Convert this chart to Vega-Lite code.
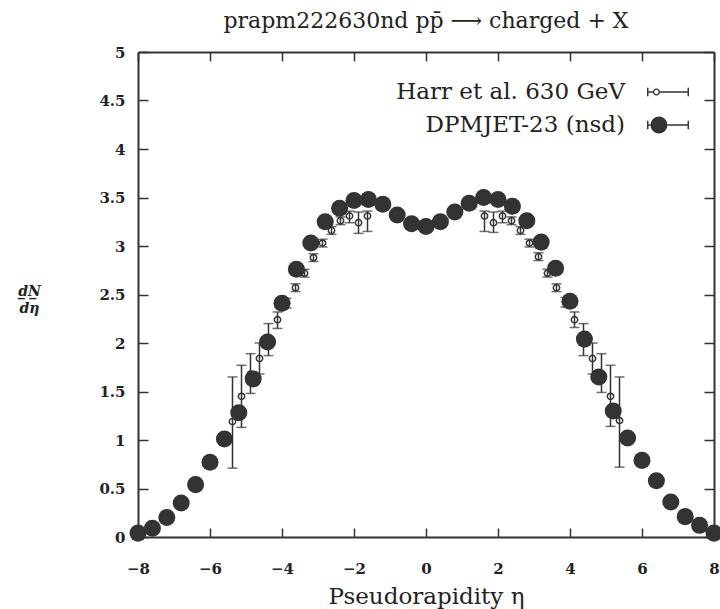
{
  "$schema": "https://vega.github.io/schema/vega-lite/v6.json",
  "width": 576,
  "height": 485,
  "autosize": {"type": "none"},
  "padding": {"left": 138, "top": 52, "right": 6, "bottom": 72},
  "background": "white",
  "title": {
    "text": "prapm222630nd pp\u0304 \u27f6 charged + X",
    "font": "DejaVu Serif",
    "fontSize": 22,
    "fontWeight": "normal",
    "color": "#222",
    "anchor": "middle",
    "offset": 12
  },
  "config": {
    "view": {"stroke": null},
    "axis": {"grid": false, "domainColor": "#333", "domainWidth": 2, "tickColor": "#333", "tickWidth": 1.5, "labelFlush": false, "labelOverlap": false}
  },
  "data": {
    "values": [
      {"series": "DPMJET-23 (nsd)", "eta": -8.0, "dndeta": 0.04},
      {"series": "DPMJET-23 (nsd)", "eta": -7.6, "dndeta": 0.09},
      {"series": "DPMJET-23 (nsd)", "eta": -7.2, "dndeta": 0.2},
      {"series": "DPMJET-23 (nsd)", "eta": -6.8, "dndeta": 0.35},
      {"series": "DPMJET-23 (nsd)", "eta": -6.4, "dndeta": 0.54},
      {"series": "DPMJET-23 (nsd)", "eta": -6.0, "dndeta": 0.77},
      {"series": "DPMJET-23 (nsd)", "eta": -5.6, "dndeta": 1.01},
      {"series": "DPMJET-23 (nsd)", "eta": -5.2, "dndeta": 1.28},
      {"series": "DPMJET-23 (nsd)", "eta": -4.8, "dndeta": 1.63},
      {"series": "DPMJET-23 (nsd)", "eta": -4.4, "dndeta": 2.01},
      {"series": "DPMJET-23 (nsd)", "eta": -4.0, "dndeta": 2.41},
      {"series": "DPMJET-23 (nsd)", "eta": -3.6, "dndeta": 2.76},
      {"series": "DPMJET-23 (nsd)", "eta": -3.2, "dndeta": 3.03},
      {"series": "DPMJET-23 (nsd)", "eta": -2.8, "dndeta": 3.25},
      {"series": "DPMJET-23 (nsd)", "eta": -2.4, "dndeta": 3.39},
      {"series": "DPMJET-23 (nsd)", "eta": -2.0, "dndeta": 3.47},
      {"series": "DPMJET-23 (nsd)", "eta": -1.6, "dndeta": 3.48},
      {"series": "DPMJET-23 (nsd)", "eta": -1.2, "dndeta": 3.43},
      {"series": "DPMJET-23 (nsd)", "eta": -0.8, "dndeta": 3.32},
      {"series": "DPMJET-23 (nsd)", "eta": -0.4, "dndeta": 3.23},
      {"series": "DPMJET-23 (nsd)", "eta": 0.0, "dndeta": 3.2},
      {"series": "DPMJET-23 (nsd)", "eta": 0.4, "dndeta": 3.25},
      {"series": "DPMJET-23 (nsd)", "eta": 0.8, "dndeta": 3.35},
      {"series": "DPMJET-23 (nsd)", "eta": 1.2, "dndeta": 3.44},
      {"series": "DPMJET-23 (nsd)", "eta": 1.6, "dndeta": 3.5},
      {"series": "DPMJET-23 (nsd)", "eta": 2.0, "dndeta": 3.48},
      {"series": "DPMJET-23 (nsd)", "eta": 2.4, "dndeta": 3.41},
      {"series": "DPMJET-23 (nsd)", "eta": 2.8, "dndeta": 3.26},
      {"series": "DPMJET-23 (nsd)", "eta": 3.2, "dndeta": 3.04},
      {"series": "DPMJET-23 (nsd)", "eta": 3.6, "dndeta": 2.77},
      {"series": "DPMJET-23 (nsd)", "eta": 4.0, "dndeta": 2.43},
      {"series": "DPMJET-23 (nsd)", "eta": 4.4, "dndeta": 2.04},
      {"series": "DPMJET-23 (nsd)", "eta": 4.8, "dndeta": 1.65},
      {"series": "DPMJET-23 (nsd)", "eta": 5.2, "dndeta": 1.3},
      {"series": "DPMJET-23 (nsd)", "eta": 5.6, "dndeta": 1.02},
      {"series": "DPMJET-23 (nsd)", "eta": 6.0, "dndeta": 0.79},
      {"series": "DPMJET-23 (nsd)", "eta": 6.4, "dndeta": 0.58},
      {"series": "DPMJET-23 (nsd)", "eta": 6.8, "dndeta": 0.36},
      {"series": "DPMJET-23 (nsd)", "eta": 7.2, "dndeta": 0.21},
      {"series": "DPMJET-23 (nsd)", "eta": 7.6, "dndeta": 0.12},
      {"series": "DPMJET-23 (nsd)", "eta": 8.0, "dndeta": 0.04},
      {"series": "Harr et al. 630 GeV", "eta": -5.375, "dndeta": 1.19, "lo": 0.71, "hi": 1.65},
      {"series": "Harr et al. 630 GeV", "eta": -5.125, "dndeta": 1.45, "lo": 1.13, "hi": 1.77},
      {"series": "Harr et al. 630 GeV", "eta": -4.875, "dndeta": 1.68, "lo": 1.48, "hi": 1.89},
      {"series": "Harr et al. 630 GeV", "eta": -4.625, "dndeta": 1.84, "lo": 1.68, "hi": 2.0},
      {"series": "Harr et al. 630 GeV", "eta": -4.375, "dndeta": 2.03, "lo": 1.87, "hi": 2.2},
      {"series": "Harr et al. 630 GeV", "eta": -4.125, "dndeta": 2.24, "lo": 2.15, "hi": 2.32},
      {"series": "Harr et al. 630 GeV", "eta": -3.875, "dndeta": 2.41, "lo": 2.36, "hi": 2.46},
      {"series": "Harr et al. 630 GeV", "eta": -3.625, "dndeta": 2.57, "lo": 2.53, "hi": 2.61},
      {"series": "Harr et al. 630 GeV", "eta": -3.375, "dndeta": 2.72, "lo": 2.68, "hi": 2.76},
      {"series": "Harr et al. 630 GeV", "eta": -3.125, "dndeta": 2.88, "lo": 2.84, "hi": 2.92},
      {"series": "Harr et al. 630 GeV", "eta": -2.875, "dndeta": 3.03, "lo": 2.99, "hi": 3.07},
      {"series": "Harr et al. 630 GeV", "eta": -2.625, "dndeta": 3.16, "lo": 3.12, "hi": 3.2},
      {"series": "Harr et al. 630 GeV", "eta": -2.375, "dndeta": 3.26, "lo": 3.22, "hi": 3.3},
      {"series": "Harr et al. 630 GeV", "eta": -2.125, "dndeta": 3.31, "lo": 3.24, "hi": 3.36},
      {"series": "Harr et al. 630 GeV", "eta": -1.875, "dndeta": 3.24, "lo": 3.13, "hi": 3.35},
      {"series": "Harr et al. 630 GeV", "eta": -1.625, "dndeta": 3.31, "lo": 3.15, "hi": 3.36},
      {"series": "Harr et al. 630 GeV", "eta": 1.625, "dndeta": 3.31, "lo": 3.15, "hi": 3.36},
      {"series": "Harr et al. 630 GeV", "eta": 1.875, "dndeta": 3.24, "lo": 3.14, "hi": 3.35},
      {"series": "Harr et al. 630 GeV", "eta": 2.125, "dndeta": 3.31, "lo": 3.24, "hi": 3.36},
      {"series": "Harr et al. 630 GeV", "eta": 2.375, "dndeta": 3.26, "lo": 3.22, "hi": 3.3},
      {"series": "Harr et al. 630 GeV", "eta": 2.625, "dndeta": 3.16, "lo": 3.12, "hi": 3.2},
      {"series": "Harr et al. 630 GeV", "eta": 2.875, "dndeta": 3.03, "lo": 2.99, "hi": 3.07},
      {"series": "Harr et al. 630 GeV", "eta": 3.125, "dndeta": 2.89, "lo": 2.85, "hi": 2.93},
      {"series": "Harr et al. 630 GeV", "eta": 3.375, "dndeta": 2.72, "lo": 2.68, "hi": 2.76},
      {"series": "Harr et al. 630 GeV", "eta": 3.625, "dndeta": 2.57, "lo": 2.53, "hi": 2.61},
      {"series": "Harr et al. 630 GeV", "eta": 3.875, "dndeta": 2.42, "lo": 2.37, "hi": 2.47},
      {"series": "Harr et al. 630 GeV", "eta": 4.125, "dndeta": 2.24, "lo": 2.16, "hi": 2.32},
      {"series": "Harr et al. 630 GeV", "eta": 4.375, "dndeta": 2.03, "lo": 1.87, "hi": 2.2},
      {"series": "Harr et al. 630 GeV", "eta": 4.625, "dndeta": 1.84, "lo": 1.68, "hi": 2.0},
      {"series": "Harr et al. 630 GeV", "eta": 4.875, "dndeta": 1.68, "lo": 1.49, "hi": 1.89},
      {"series": "Harr et al. 630 GeV", "eta": 5.125, "dndeta": 1.45, "lo": 1.14, "hi": 1.77},
      {"series": "Harr et al. 630 GeV", "eta": 5.375, "dndeta": 1.2, "lo": 0.72, "hi": 1.65}
    ]
  },
  "resolve": {"axis": {"x": "independent", "y": "independent"}},
  "layer": [
    {
      "transform": [{"filter": "datum.series === 'Harr et al. 630 GeV'"}],
      "mark": {"type": "errorbar", "ticks": {"size": 10}, "thickness": 1.5, "color": "#333"},
      "encoding": {
        "x": {"field": "eta", "type": "quantitative", "scale": {"domain": [-8, 8], "nice": false, "zero": false}, "axis": null},
        "y": {"field": "lo", "type": "quantitative", "scale": {"domain": [0, 5], "nice": false}, "axis": null},
        "y2": {"field": "hi"}
      }
    },
    {
      "transform": [{"filter": "datum.series === 'Harr et al. 630 GeV'"}],
      "mark": {"type": "point", "shape": "circle", "filled": false, "stroke": "#333", "strokeWidth": 1.5, "size": 40, "opacity": 1},
      "encoding": {
        "x": {
          "field": "eta", "type": "quantitative",
          "axis": {
            "orient": "bottom", "values": [-8, -6, -4, -2, 0, 2, 4, 6, 8], "format": "d",
            "title": "Pseudorapidity \u03b7", "titleFont": "DejaVu Serif", "titleFontSize": 23, "titleFontWeight": "normal", "titleColor": "#222", "titlePadding": 9,
            "labelFont": "DejaVu Serif", "labelFontSize": 15, "labelFontWeight": "bold", "labelColor": "#222", "labelPadding": 33,
            "tickSize": -9
          }
        },
        "y": {
          "field": "dndeta", "type": "quantitative",
          "axis": {
            "orient": "left", "values": [0, 0.5, 1, 1.5, 2, 2.5, 3, 3.5, 4, 4.5, 5], "format": "~f",
            "title": ["d\u0332N\u0332", "d\u03b7"], "titleFont": "DejaVu Serif", "titleFontSize": 14, "titleFontStyle": "italic", "titleFontWeight": "bold", "titleColor": "#222",
            "titleAngle": 0, "titleAlign": "center", "titleBaseline": "middle", "titleX": -109, "titleY": 239, "titleLineHeight": 17,
            "labelFont": "DejaVu Serif", "labelFontSize": 15, "labelFontWeight": "bold", "labelColor": "#222", "labelPadding": 23,
            "tickSize": -10
          }
        }
      }
    },
    {
      "transform": [{"filter": "datum.series === 'DPMJET-23 (nsd)'"}],
      "mark": {"type": "point", "shape": "circle", "filled": true, "color": "#333", "size": 290, "opacity": 1},
      "encoding": {
        "x": {"field": "eta", "type": "quantitative", "axis": {"orient": "top", "values": [-8, -6, -4, -2, 0, 2, 4, 6, 8], "labels": false, "title": null, "tickSize": -9}},
        "y": {"field": "dndeta", "type": "quantitative", "axis": {"orient": "right", "values": [0, 0.5, 1, 1.5, 2, 2.5, 3, 3.5, 4, 4.5, 5], "labels": false, "title": null, "tickSize": -10}}
      }
    },
    {
      "mark": {"type": "point", "filled": true, "color": "#333", "opacity": 0},
      "encoding": {
        "x": {"field": "eta", "type": "quantitative", "axis": null},
        "y": {"field": "dndeta", "type": "quantitative", "axis": null},
        "shape": {
          "field": "series", "type": "nominal",
          "scale": {
            "domain": ["Harr et al. 630 GeV", "DPMJET-23 (nsd)"],
            "range": [
              "M-1,-0.2H-0.93V0.2H-1Z M0.93,-0.2H1V0.2H0.93Z M-0.93,-0.038H-0.72V0.038H-0.93Z M-0.38,-0.038H0.93V0.038H-0.38Z M-0.72,0A0.17,0.17 0 1,1 -0.38,0A0.17,0.17 0 1,1 -0.72,0Z M-0.655,0A0.105,0.105 0 1,0 -0.445,0A0.105,0.105 0 1,0 -0.655,0Z",
              "M-1,-0.2H-0.93V0.2H-1Z M0.93,-0.2H1V0.2H0.93Z M-0.93,-0.038H-0.835V0.038H-0.93Z M-0.025,-0.038H0.93V0.038H-0.025Z M-0.83,0A0.4,0.4 0 1,1 -0.03,0A0.4,0.4 0 1,1 -0.83,0Z"
            ]
          },
          "legend": {
            "title": null, "orient": "none", "legendX": 509, "legendY": 19, "padding": 0,
            "labelFont": "DejaVu Serif", "labelFontSize": 23, "labelColor": "#222", "labelAlign": "right", "labelOffset": -64, "labelLimit": 500,
            "symbolSize": 1764, "symbolOpacity": 1, "symbolFillColor": "#333", "symbolStrokeWidth": 0, "rowPadding": -3
          }
        }
      }
    }
  ]
}
